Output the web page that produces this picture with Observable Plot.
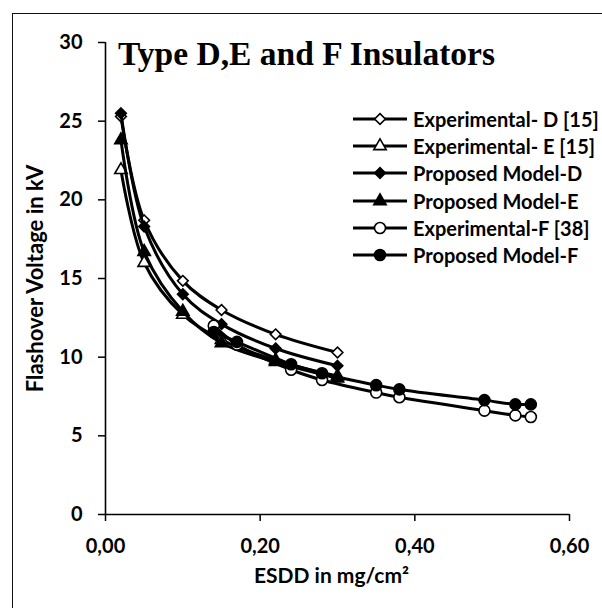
<!DOCTYPE html>
<html><head><meta charset="utf-8">
<script src="https://cdn.jsdelivr.net/npm/d3@7"></script>
<script src="https://cdn.jsdelivr.net/npm/@observablehq/plot@0.6"></script>
<style>
html,body{margin:0;padding:0;background:#fff;}
#wrap{position:relative;width:602px;height:608px;overflow:hidden;background:#fff;}
#frame{position:absolute;left:12px;top:13px;right:-10px;bottom:-10px;border-left:1.5px solid #111;border-top:1.5px solid #111;pointer-events:none;}
#title{position:absolute;left:118px;top:38px;font-family:"Liberation Serif","Times New Roman",serif;font-weight:bold;font-size:33.5px;line-height:32px;color:#000;white-space:nowrap;}
#legend{position:absolute;left:353px;top:105px;font-family:Lato,sans-serif;font-weight:bold;font-size:20px;color:#000;}
.row{display:flex;align-items:center;height:27.3px;white-space:nowrap;}
.row svg{margin-right:4px;flex:none;}
</style></head>
<body>
<div id="wrap"><div id="plot"></div><div id="frame"></div><div id="title">Type D,E and F Insulators</div><div id="legend"></div></div>
<script>
// data
const xTicks = [0, 0.2, 0.4, 0.6];
const yTicks = [0, 5, 10, 15, 20, 25, 30];
const DE_x = [0.02, 0.05, 0.10, 0.15, 0.22, 0.30];
const expD_y = [25.3, 18.7, 14.85, 13.0, 11.45, 10.3];
const expE_y = [21.9, 16.0, 12.7, 11.1, 9.8, 8.8];
const modelD_y = [25.5, 18.3, 14.0, 12.1, 10.55, 9.45];
const modelE_y = [23.8, 16.7, 12.9, 10.9, 9.7, 8.65];
const F_x = [0.14, 0.17, 0.24, 0.28, 0.35, 0.38, 0.49, 0.53, 0.55];
const expF_y = [12.0, 10.8, 9.2, 8.55, 7.75, 7.45, 6.6, 6.3, 6.2];
const modelF_y = [11.6, 10.97, 9.55, 8.98, 8.22, 7.95, 7.27, 7.0, 7.0];

const seriesNames = ["Experimental- D [15]", "Experimental- E [15]", "Proposed Model-D", "Proposed Model-E", "Experimental-F [38]", "Proposed Model-F"];
const seriesX = [DE_x, DE_x, DE_x, DE_x, F_x, F_x];
const seriesY = [expD_y, expE_y, modelD_y, modelE_y, expF_y, modelF_y];
const symbols = ["diamond2", "triangle", "diamond2", "triangle", "circle", "circle"];
const fills = ["white", "white", "black", "black", "white", "black"];
const radii = [4.8, 4.6, 4.8, 4.6, 5.5, 5.5];
const xLabel = "ESDD in mg/cm²";
const yLabel = "Flashover Voltage in kV";

const series = seriesNames.map((name, i) => seriesX[i].map((x, j) => ({name, x, y: seriesY[i][j]})));

const fmt = d => d.toFixed(2).replace(".", ",");

const marks = [
  Plot.axisY({ticks: yTicks, tickSize: 7, tickPadding: 16, strokeWidth: 1.5, fontSize: 20, fontWeight: "bold", label: null}),
  Plot.axisX({ticks: xTicks, tickSize: 7, tickPadding: 17, strokeWidth: 1.5, fontSize: 20, fontWeight: "bold", tickFormat: fmt, label: null}),
  Plot.text([xLabel], {text: d => d, frameAnchor: "bottom", textAnchor: "middle", dy: 68, dx: -6, fontSize: 21, fontWeight: "bold", fill: "black"}),
  Plot.text([yLabel], {text: d => d, frameAnchor: "left", textAnchor: "middle", dx: -70, dy: 0, rotate: -90, fontSize: 22, fontWeight: "bold", fill: "black"}),
  Plot.ruleX([0], {stroke: "black", strokeWidth: 1.6}),
  Plot.ruleY([0], {stroke: "black", strokeWidth: 1.6})
];
series.forEach((s, i) => {
  marks.push(Plot.line(s, {x: "x", y: "y", stroke: "black", strokeWidth: 3, curve: "catmull-rom"}));
  marks.push(Plot.dot(s, {x: "x", y: "y", symbol: () => symbols[i], r: radii[i], fill: fills[i], stroke: "black", strokeWidth: 1.6}));
});

const chart = Plot.plot({
  width: 602, height: 608,
  marginLeft: 105, marginRight: 33, marginTop: 42, marginBottom: 94,
  style: {fontFamily: "Lato, sans-serif", fontWeight: "bold", fontSize: "20px", color: "black", background: "white", overflow: "visible"},
  x: {domain: [0, 0.6]},
  y: {domain: [0, 30]},
  symbol: {type: "identity"},
  marks
});
document.getElementById("plot").appendChild(chart);

// legend
const leg = document.getElementById("legend");
const sym = {
  diamond2: d3.symbol(d3.symbolDiamond2, Math.PI * 4.8 * 4.8)(),
  triangle: d3.symbol(d3.symbolTriangle, Math.PI * 4.6 * 4.6)(),
  circle: d3.symbol(d3.symbolCircle, Math.PI * 5.5 * 5.5)()
};
seriesNames.forEach((name, i) => {
  const row = document.createElement("div");
  row.className = "row";
  row.innerHTML = `<svg width="56" height="20" viewBox="0 0 56 20"><line x1="0" x2="54" y1="10" y2="10" stroke="black" stroke-width="3"/><path transform="translate(27,10)" d="${sym[symbols[i]]}" fill="${fills[i]}" stroke="black" stroke-width="1.6"/></svg><span>${name}</span>`;
  leg.appendChild(row);
});
</script>
</body></html>
